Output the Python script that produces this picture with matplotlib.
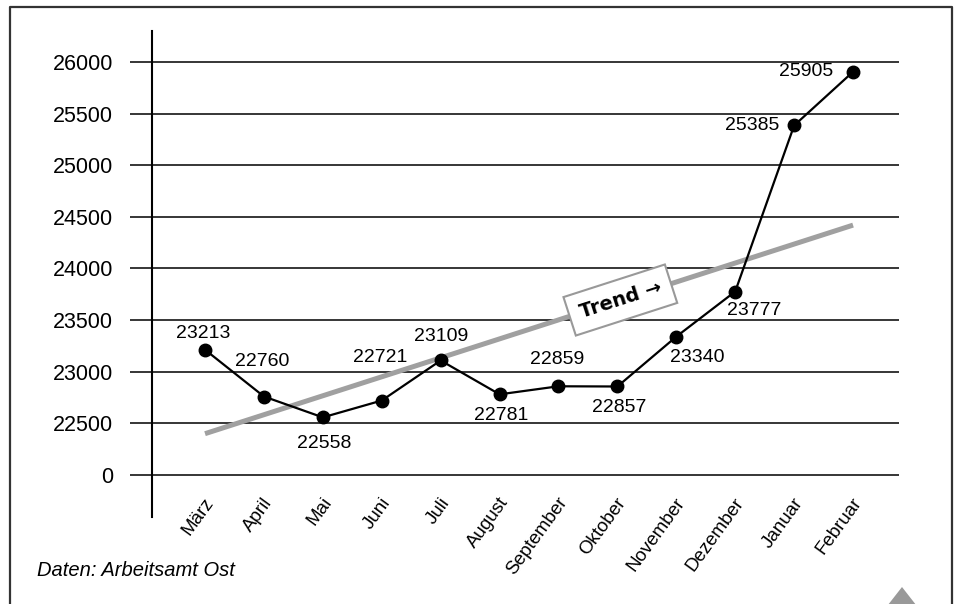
import numpy as np
import matplotlib
matplotlib.use('Agg')
import matplotlib.pyplot as plt
from matplotlib.lines import Line2D
from matplotlib.patches import Polygon

#--- data
months = ['März', 'April', 'Mai', 'Juni', 'Juli', 'August', 'September',
          'Oktober', 'November', 'Dezember', 'Januar', 'Februar']
values = [23213, 22760, 22558, 22721, 23109, 22781, 22859, 22857,
          23340, 23777, 25385, 25905]
trend_start, trend_end = 22400, 24420

# axis break: the value 0 sits where 22000 would be
ytick_vals = [22000, 22500, 23000, 23500, 24000, 24500, 25000, 25500, 26000]
ytick_labels = ['0', '22500', '23000', '23500', '24000', '24500', '25000', '25500', '26000']

# label offsets in points (dx, dy) relative to each dot
label_offsets = [(-1, 12), (-1, 25), (1, -19), (-1, 31), (0, 17), (1, -15),
                 (-1, 19), (1, -15), (15, -15), (14, -14), (-30, 0), (-34, 0)]

plt.rcParams['font.family'] = ['Liberation Sans', 'DejaVu Sans']

W, H = 957, 604
fig = plt.figure(figsize=(W / 100, H / 100), dpi=100)
ax = fig.add_axes([152 / W, 1 - 517 / H, (899 - 152) / W, (517 - 31) / H])

x = np.arange(len(months))
ax.set_xlim(-0.9, 11.78)
ax.set_ylim(21593, 26300)

#--- trend line and data line
ax.plot([x[0], x[-1]], [trend_start, trend_end], color='#a0a0a0', lw=3.6,
        solid_capstyle='butt', zorder=3)
ax.plot(x, values, color='black', lw=1.6, marker='o', markersize=9, zorder=4)

for xi, v, (dx, dy) in zip(x, values, label_offsets):
    ax.annotate(str(v), (xi, v), xytext=(dx, dy), textcoords='offset points',
                ha='center', va='center', fontsize=14)

#--- trend label box
tx = 7.05
ty = trend_start + (trend_end - trend_start) * tx / x[-1]
p0 = ax.transData.transform((x[0], trend_start))
p1 = ax.transData.transform((x[-1], trend_end))
angle = np.degrees(np.arctan2(p1[1] - p0[1], p1[0] - p0[0]))
ax.text(tx, ty, 'Trend \u2192', rotation=angle, rotation_mode='anchor',
        ha='center', va='center', fontsize=14, fontweight='bold',
        family='DejaVu Sans', zorder=5,
        bbox=dict(boxstyle='square,pad=0.55', fc='white', ec='#999999', lw=1.5))

#--- axes styling
ax.set_yticks(ytick_vals)
ax.set_yticklabels(ytick_labels, fontsize=15.5)
ax.tick_params(axis='y', direction='out', length=16, width=1.1, pad=12)
ax.grid(axis='y', color='black', lw=1.1)
ax.set_axisbelow(True)
ax.set_xticks([])
for s in ['top', 'right', 'bottom']:
    ax.spines[s].set_visible(False)
ax.spines['left'].set_linewidth(1.5)

for xi, m in zip(x, months):
    ax.annotate(m, (xi, 22000), xytext=(-1, -14), textcoords='offset points',
                ha='right', va='top', rotation=54, rotation_mode='anchor',
                fontsize=13.5)

#--- source, frame and corner triangle
fig.text(37 / W, 1 - 570 / H, 'Daten: Arbeitsamt Ost', style='italic',
         fontsize=14.5, va='center')
fig.add_artist(Line2D([10 / W, 10 / W, 952 / W, 952 / W],
                      [0, 1 - 7 / H, 1 - 7 / H, 0],
                      transform=fig.transFigure, color='#333333', lw=1.6))
fig.add_artist(Polygon([[902 / W, 1 - 587 / H], [884 / W, -0.01], [920 / W, -0.01]],
                       closed=True, transform=fig.transFigure,
                       color='#999999', lw=0))

fig.savefig('out.png', dpi=100)
